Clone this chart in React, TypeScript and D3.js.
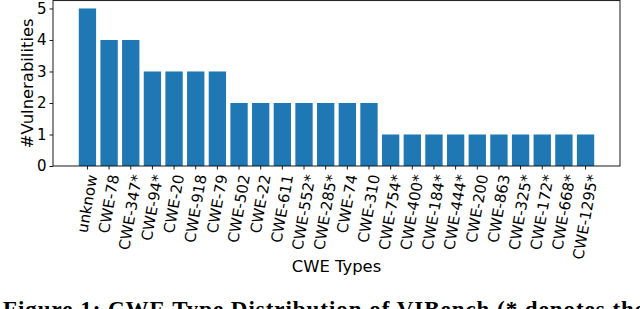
import React, { useRef, useEffect } from "react";
import * as d3 from "d3";

const CWE_TYPES = [
  "unknow",
  "CWE-78",
  "CWE-347*",
  "CWE-94*",
  "CWE-20",
  "CWE-918",
  "CWE-79",
  "CWE-502",
  "CWE-22",
  "CWE-611",
  "CWE-552*",
  "CWE-285*",
  "CWE-74",
  "CWE-310",
  "CWE-754*",
  "CWE-400*",
  "CWE-184*",
  "CWE-444*",
  "CWE-200",
  "CWE-863",
  "CWE-325*",
  "CWE-172*",
  "CWE-668*",
  "CWE-1295*",
];
const VULN_COUNTS = [5, 4, 4, 3, 3, 3, 3, 2, 2, 2, 2, 2, 2, 2, 1, 1, 1, 1, 1, 1, 1, 1, 1, 1];
const Y_TICKS = [0, 1, 2, 3, 4, 5];
const X_LABEL = "CWE Types";
const Y_LABEL = "#Vulnerabilities";
const CAPTION = "Figure 1: CWE Type Distribution of VIBench (* denotes the";

const WIDTH = 640;
const HEIGHT = 309;
const FONT = "'DejaVu Sans', sans-serif";
const TICK_FS = 15;
const LABEL_FS = 16.4;

export default function App() {
  const svgRef = useRef<SVGSVGElement>(null);

  useEffect(() => {
    if (!svgRef.current) return;
    const svg = d3.select(svgRef.current);
    svg.selectAll("*").remove();

    // axes box in pixels
    const left = 53;
    const right = 620;
    const top = 0.6;
    const bottom = 166;

    const n = CWE_TYPES.length;
    const barW = 0.8;
    const pad = 0.05 * (n - 1 + barW);
    const x = d3
      .scaleLinear()
      .domain([-barW / 2 - pad, n - 1 + barW / 2 + pad])
      .range([left, right]);
    const yMax = d3.max(VULN_COUNTS) as number;
    const y = d3
      .scaleLinear()
      .domain([0, yMax * 1.05])
      .range([bottom, top]);

    // bars
    svg
      .append("g")
      .selectAll("rect")
      .data(VULN_COUNTS)
      .join("rect")
      .attr("x", (_d, i) => x(i - barW / 2))
      .attr("width", x(barW) - x(0))
      .attr("y", (d) => y(d))
      .attr("height", (d) => y(0) - y(d))
      .attr("fill", "#1f77b4");

    // frame
    svg
      .append("rect")
      .attr("x", left)
      .attr("y", top)
      .attr("width", right - left)
      .attr("height", bottom - top)
      .attr("fill", "none")
      .attr("stroke", "#000")
      .attr("stroke-width", 0.9);

    // y axis
    const yAxis = d3
      .axisLeft(y)
      .tickValues(Y_TICKS)
      .tickSize(3.5)
      .tickPadding(3)
      .tickFormat((d) => `${d}`);
    const gy = svg.append("g").attr("transform", `translate(${left},0)`).call(yAxis);
    gy.select(".domain").remove();
    gy.selectAll("line").attr("stroke", "#000").attr("stroke-width", 0.9);
    gy.selectAll("text")
      .style("font-family", FONT)
      .style("font-size", `${TICK_FS}px`)
      .attr("fill", "#000");

    // x ticks
    const gx = svg.append("g");
    gx.selectAll("line")
      .data(CWE_TYPES)
      .join("line")
      .attr("x1", (_d, i) => x(i))
      .attr("x2", (_d, i) => x(i))
      .attr("y1", bottom)
      .attr("y2", bottom + 3.5)
      .attr("stroke", "#000")
      .attr("stroke-width", 0.9);

    // rotated x tick labels (80°, bbox centred on tick like matplotlib)
    const angle = 80;
    const rad = (angle * Math.PI) / 180;
    const labelTop = bottom + 6.5;
    gx.selectAll("text")
      .data(CWE_TYPES)
      .join("text")
      .text((d) => d)
      .style("font-family", FONT)
      .style("font-size", `${TICK_FS}px`)
      .attr("fill", "#000")
      .attr("text-anchor", "end")
      .attr("dominant-baseline", "central")
      .each(function (_d, i) {
        const el = this as SVGTextElement;
        const L = el.getComputedTextLength();
        const ex = x(i) + (Math.cos(rad) * L) / 2;
        const ey = labelTop + (TICK_FS / 2) * Math.cos(rad) + 1;
        d3.select(el).attr("transform", `translate(${ex},${ey}) rotate(${-angle})`);
      });

    // axis labels
    svg
      .append("text")
      .attr("x", (left + right) / 2)
      .attr("y", 272)
      .attr("text-anchor", "middle")
      .style("font-family", FONT)
      .style("font-size", `${LABEL_FS}px`)
      .attr("fill", "#000")
      .text(X_LABEL);

    svg
      .append("text")
      .attr("transform", `translate(33,${(top + bottom) / 2}) rotate(-90)`)
      .attr("text-anchor", "middle")
      .style("font-family", FONT)
      .style("font-size", `${LABEL_FS}px`)
      .attr("fill", "#000")
      .text(Y_LABEL);

    // figure caption (cut off by the frame, as in the source)
    svg
      .append("text")
      .attr("x", 3)
      .attr("y", 317)
      .attr("textLength", 642)
      .attr("lengthAdjust", "spacing")
      .style("font-family", "'Liberation Serif', serif")
      .style("font-weight", "bold")
      .style("font-size", "23px")
      .attr("fill", "#000")
      .text(CAPTION);
  }, []);

  return (
    <svg
      ref={svgRef}
      width={WIDTH}
      height={HEIGHT}
      viewBox={`0 0 ${WIDTH} ${HEIGHT}`}
      style={{ position: "absolute", left: 0, top: 0, background: "#fff" }}
    />
  );
}
